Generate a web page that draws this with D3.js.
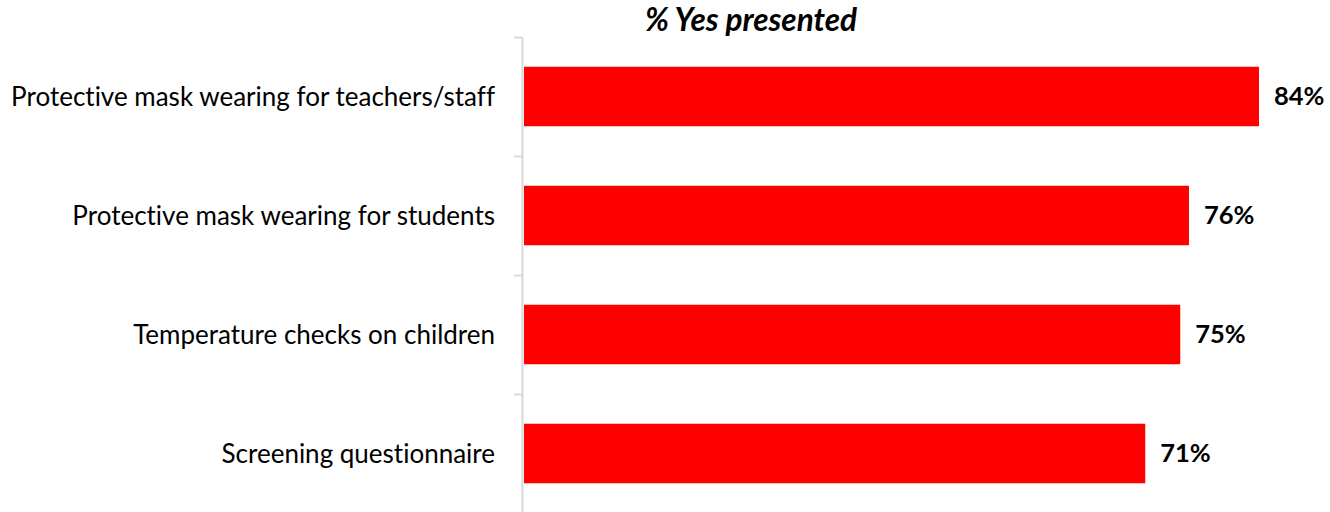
<!DOCTYPE html>
<html>
<head>
<meta charset="utf-8">
<script src="https://cdn.jsdelivr.net/npm/d3@7"></script>
<style>
  body { margin: 0; background: #fff; }
  text { font-family: Lato, "Open Sans", sans-serif; font-variant-ligatures: none; }
</style>
</head>
<body>
<svg id="chart" width="1330" height="512"></svg>
<script>
var categories = [
  'Protective mask wearing for teachers/staff',
  'Protective mask wearing for students',
  'Temperature checks on children',
  'Screening questionnaire'
];
var values = [84, 76, 75, 71];
var title = '% Yes presented';

var svg = d3.select('#chart');

// 8.75px per percentage point, bars start just right of the axis line
var x = d3.scaleLinear().domain([0, 100]).range([524, 1399]);
var y = d3.scaleBand().domain(categories).range([37, 513])
  .paddingInner(0.5).paddingOuter(0.25);

var data = categories.map(function(c, i) { return { name: c, value: values[i] }; });

// axis line + ticks at band boundaries
svg.append('line')
  .attr('x1', 522.5).attr('x2', 522.5)
  .attr('y1', 37).attr('y2', 512)
  .attr('stroke', '#d9d9d9').attr('stroke-width', 2);

var bounds = d3.range(categories.length + 1).map(function(i) {
  return 37 + i * y.step();
});
svg.selectAll('line.tick').data(bounds).enter().append('line')
  .attr('class', 'tick')
  .attr('x1', 514).attr('x2', 522)
  .attr('y1', function(d) { return Math.round(d) + 0.5; })
  .attr('y2', function(d) { return Math.round(d) + 0.5; })
  .attr('stroke', '#d9d9d9').attr('stroke-width', 2);

svg.selectAll('rect.bar').data(data).enter().append('rect')
  .attr('class', 'bar')
  .attr('x', x(0))
  .attr('y', function(d) { return y(d.name); })
  .attr('width', function(d) { return x(d.value) - x(0); })
  .attr('height', y.bandwidth())
  .attr('fill', '#ff0000');

svg.selectAll('text.cat').data(data).enter().append('text')
  .attr('class', 'cat')
  .attr('x', 495)
  .attr('y', function(d) { return y(d.name) + y.bandwidth() / 2; })
  .attr('dy', '0.35em')
  .attr('text-anchor', 'end')
  .attr('font-size', 26)
  .attr('fill', '#000')
  .text(function(d) { return d.name; });

svg.selectAll('text.val').data(data).enter().append('text')
  .attr('class', 'val')
  .attr('x', function(d) { return x(d.value) + 15; })
  .attr('y', function(d) { return y(d.name) + y.bandwidth() / 2; })
  .attr('dy', '0.35em')
  .attr('font-size', 25.5)
  .attr('font-weight', 'bold')
  .attr('fill', '#000')
  .text(function(d) { return d.value + '%'; });

svg.append('text')
  .attr('x', 751)
  .attr('y', 31)
  .attr('text-anchor', 'middle')
  .attr('font-size', 31.5)
  .attr('font-weight', 'bold')
  .attr('font-style', 'italic')
  .text(title);
</script>
</body>
</html>
